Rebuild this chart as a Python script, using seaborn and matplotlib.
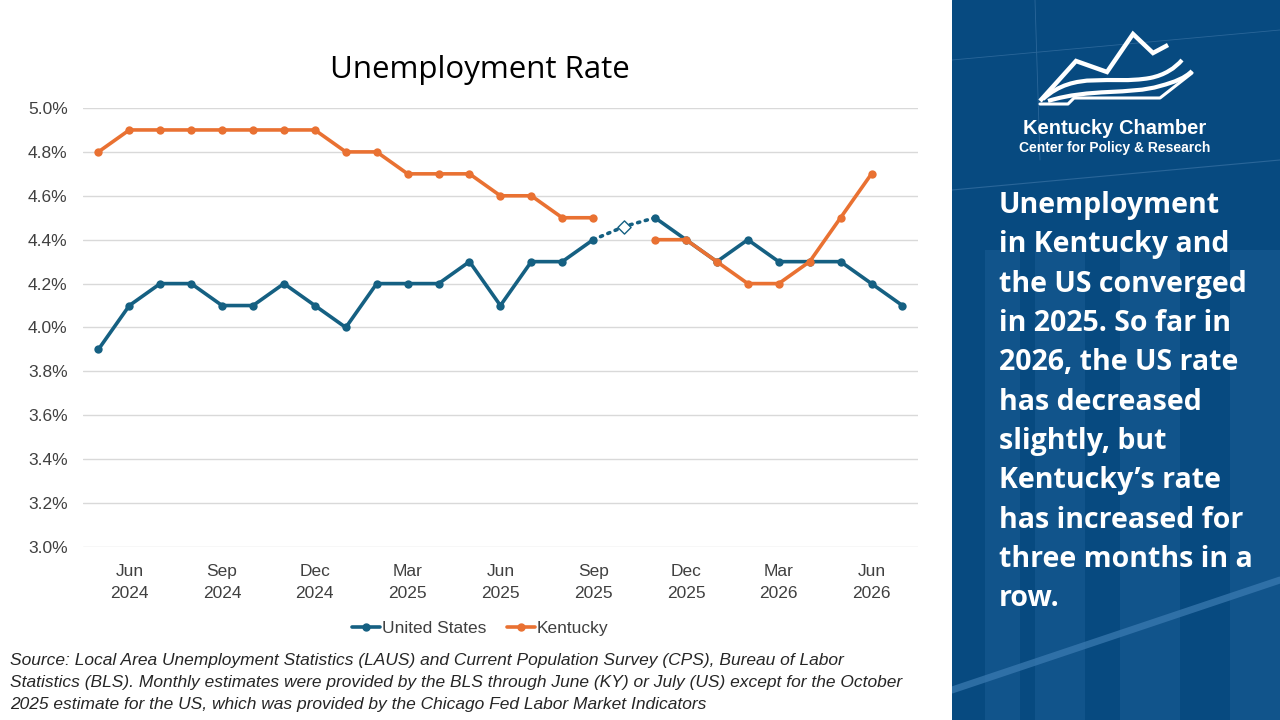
import numpy as np
import pandas as pd
import matplotlib.pyplot as plt
import seaborn as sns
from matplotlib.lines import Line2D
from matplotlib.patches import Rectangle, PathPatch
from matplotlib.path import Path

# monthly data, May 2024 .. Jul 2026 (NaN = not available)
months = pd.date_range('2024-05-01', '2026-07-01', freq='MS')
us = [3.9, 4.1, 4.2, 4.2, 4.1, 4.1, 4.2, 4.1, 4.0, 4.2, 4.2, 4.2, 4.3, 4.1, 4.3, 4.3,
      4.4, np.nan, 4.5, 4.4, 4.3, 4.4, 4.3, 4.3, 4.3, 4.2, 4.1]
ky = [4.8, 4.9, 4.9, 4.9, 4.9, 4.9, 4.9, 4.9, 4.8, 4.8, 4.7, 4.7, 4.7, 4.6, 4.6, 4.5,
      4.5, np.nan, 4.4, 4.4, 4.3, 4.2, 4.2, 4.3, 4.5, 4.7, np.nan]
us_oct_estimate = 4.46   # Chicago Fed estimate for Oct 2025
tick_months = ['Jun\n2024', 'Sep\n2024', 'Dec\n2024', 'Mar\n2025', 'Jun\n2025',
               'Sep\n2025', 'Dec\n2025', 'Mar\n2026', 'Jun\n2026']

US_C = '#156082'
KY_C = '#E97132'
PANEL = '#074A80'

df = pd.DataFrame({'i': np.arange(len(months)), 'us': us, 'ky': ky})
df.loc[17, 'us_est'] = us_oct_estimate

sns.set_style('white')
plt.rcParams['font.family'] = ['Liberation Sans', 'DejaVu Sans']

fig = plt.figure(figsize=(12.8, 7.2), dpi=100)
ax = fig.add_axes([0.0648, 0.2403, 0.6523, 0.6097])

def segments(col):
    # split a column into runs without NaN so the lines break at gaps
    s = df[col]
    grp = s.isna().cumsum()
    for _, part in df[s.notna()].groupby(grp[s.notna()]):
        yield part

for part in segments('us'):
    sns.lineplot(data=part, x='i', y='us', color=US_C, lw=2.6, marker='o',
                 markersize=6, markeredgewidth=0, ax=ax)
for part in segments('ky'):
    sns.lineplot(data=part, x='i', y='ky', color=KY_C, lw=2.6, marker='o',
                 markersize=6, markeredgewidth=0, ax=ax)

# dotted bridge through the October estimate
bridge = pd.DataFrame({'i': [16, 17, 18],
                       'v': [df.loc[16, 'us'], us_oct_estimate, df.loc[18, 'us']]})
sns.lineplot(data=bridge, x='i', y='v', color=US_C, lw=2.6, ls=(0, (0.6, 1.6)),
             dash_capstyle='round', ax=ax)
sns.scatterplot(data=df.dropna(subset=['us_est']), x='i', y='us_est', marker='D',
                s=45, facecolor='white', edgecolor=US_C, linewidth=1.0, zorder=5, ax=ax)

ax.set_xlim(-0.5, len(months) - 0.5)
ax.set_ylim(3.0, 5.0)
ax.set_yticks(np.arange(3.0, 5.01, 0.2))
ax.set_yticklabels(['{:.1f}%'.format(v) for v in np.arange(3.0, 5.01, 0.2)], fontsize=12.5,
                   color='#404040')
ax.set_xticks(np.arange(1, len(months), 3))
ax.set_xticklabels(tick_months, fontsize=12.5, color='#404040', linespacing=1.6)
ax.tick_params(axis='y', length=0, pad=11)
ax.tick_params(axis='x', length=0, pad=12)
ax.grid(axis='y', color='#d9d9d9', lw=1)
for sp in ax.spines.values():
    sp.set_visible(False)
ax.set_xlabel('')
ax.set_ylabel('')
fig.text(480 / 1280, 1 - 70 / 720, 'Unemployment Rate', fontsize=22.5, color='black',
         ha='center', va='center', family=['Open Sans', 'DejaVu Sans'])

handles = [Line2D([], [], color=US_C, lw=2.6, marker='o', markersize=5),
           Line2D([], [], color=KY_C, lw=2.6, marker='o', markersize=5)]
leg = fig.legend(handles, ['United States', 'Kentucky'], loc='center',
                 bbox_to_anchor=(480 / 1280, 1 - 628 / 720), ncol=2, frameon=False,
                 prop={'size': 12.5}, handlelength=1.6,
                 handletextpad=0.1, columnspacing=1.2)
for t in leg.get_texts():
    t.set_color('#404040')

src = ('Source: Local Area Unemployment Statistics (LAUS) and Current Population Survey (CPS), Bureau of Labor\n'
       'Statistics (BLS). Monthly estimates were provided by the BLS through June (KY) or July (US) except for the October\n'
       '2025 estimate for the US, which was provided by the Chicago Fed Labor Market Indicators')
fig.text(10 / 1280, 1 - 653 / 720, src, fontsize=12.5, style='italic',
         va='top', ha='left', linespacing=1.6)

# right-hand panel
pax = fig.add_axes([952 / 1280, 0, 328 / 1280, 1])
pax.set_xlim(952, 1280)
pax.set_ylim(720, 0)
pax.axis('off')
pax.add_patch(Rectangle((952, 0), 328, 720, color=PANEL, zorder=0))
for x0, w in [(985, 35), (1035, 50), (1120, 60), (1230, 50)]:
    pax.add_patch(Rectangle((x0, 250), w, 470, color='#1A5E95', alpha=0.55, zorder=1, lw=0))
pax.plot([952, 1280], [690, 580], color='#3D7CB3', lw=5, alpha=0.7, zorder=1)
pax.plot([952, 1280], [190, 160], color='#2A6699', lw=0.8, zorder=1)
pax.plot([952, 1280], [60, 30], color='#2A6699', lw=0.6, zorder=1)
pax.plot([1035, 1040], [0, 160], color='#2A6699', lw=0.6, zorder=1)

# logo
pax.plot([1040, 1076, 1107, 1133, 1153, 1168], [101, 61, 72, 34, 53, 45], color='white',
         lw=3.2, solid_joinstyle='miter', solid_capstyle='butt', zorder=3)
C3, M = Path.CURVE4, Path.MOVETO
curves = [
    [(1043, 99), (1075, 70), (1110, 85), (1150, 78), (1165, 75), (1175, 68), (1182, 60)],
    [(1048, 101), (1090, 88), (1130, 95), (1160, 86), (1175, 82), (1185, 78), (1192, 71)],
]
for pts in curves:
    p = Path(pts, [M, C3, C3, C3, C3, C3, C3])
    pax.add_patch(PathPatch(p, facecolor='none', edgecolor='white', lw=3, zorder=3))
pax.plot([1040, 1068, 1074, 1160, 1192], [104, 104, 98, 98, 73], color='white', lw=2.2, zorder=3)
pax.text(1115, 129, 'Kentucky Chamber', color='white', fontsize=14.5, weight='bold',
         ha='center', va='center')
pax.text(1115, 148, 'Center for Policy & Research', color='white', fontsize=10,
         weight='bold', ha='center', va='center')

msg = ('Unemployment\nin Kentucky and\nthe US converged\nin 2025. So far in\n2026, the US rate\n'
       'has decreased\nslightly, but\nKentucky\u2019s rate\nhas increased for\nthree months in a\nrow.')
pax.text(999, 191, msg, color='white', fontsize=20.5, weight='bold', ha='left', va='top',
         linespacing=1.47, family=['Open Sans', 'DejaVu Sans'])

fig.savefig('out.png', dpi=100)
